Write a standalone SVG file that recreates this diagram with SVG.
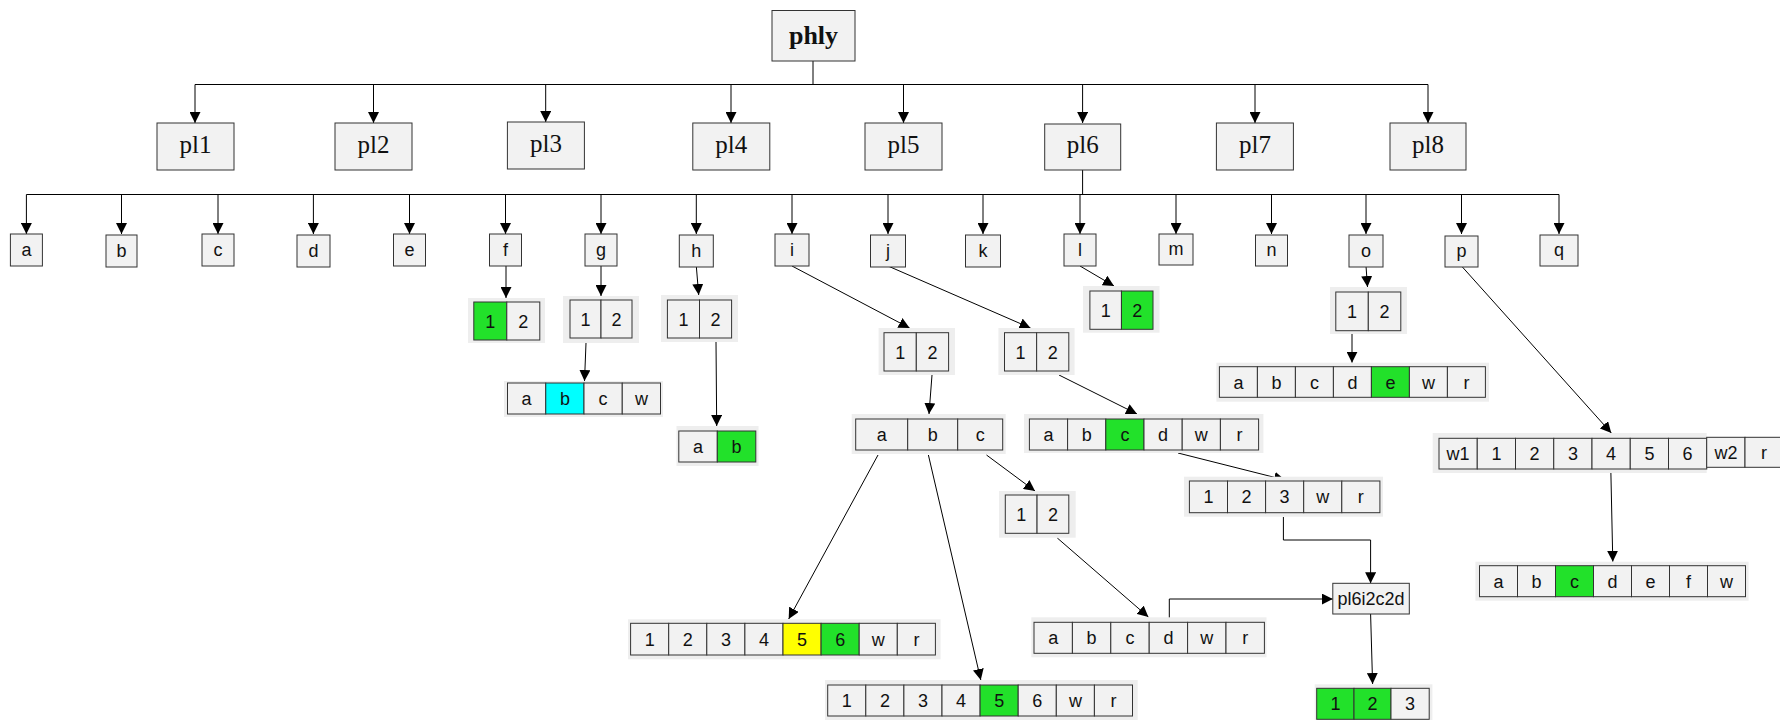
<svg xmlns="http://www.w3.org/2000/svg" width="1780" height="720" viewBox="0 0 1780 720">
<defs>
<marker id="ah" viewBox="0 0 11 11" refX="11" refY="5.5" markerWidth="11" markerHeight="11" markerUnits="userSpaceOnUse" orient="auto">
<path d="M0,0 L11,5.5 L0,11 z" fill="#000"/>
</marker>
<style>
.n{fill:#f2f2f2;stroke:#333;stroke-width:1}
.bg{fill:#eeeeee}
.gr{fill:#22e12a;stroke:#333;stroke-width:1}
.cy{fill:#00ffff;stroke:#333;stroke-width:1}
.yl{fill:#ffff00;stroke:#333;stroke-width:1}
.t{font-family:"Liberation Sans",Arial,sans-serif;font-size:18px;text-anchor:middle;fill:#111}
.s{font-family:"Liberation Serif","Times New Roman",serif;font-size:25px;text-anchor:middle;fill:#111}
.sb{font-family:"Liberation Serif","Times New Roman",serif;font-size:26px;font-weight:bold;text-anchor:middle;fill:#111}
.e{stroke:#000;stroke-width:1;fill:none}
.ea{stroke:#000;stroke-width:1;fill:none;marker-end:url(#ah)}
</style>
</defs>
<rect width="1780" height="720" fill="#fff"/>
<g id="connectors">
<path class="e" d="M813,61 V84.5 M195,84.5 H1428"/>
<path class="ea" d="M195,84.5 V123"/>
<path class="ea" d="M373.5,84.5 V123"/>
<path class="ea" d="M545.7,84.5 V122"/>
<path class="ea" d="M731,84.5 V123"/>
<path class="ea" d="M903.5,84.5 V123"/>
<path class="ea" d="M1082.6,84.5 V123"/>
<path class="ea" d="M1255,84.5 V123"/>
<path class="ea" d="M1428,84.5 V123"/>
<path class="e" d="M1082.6,170 V194.5 M26.4,194.5 H1559"/>
<path class="ea" d="M26.4,194.5 V234"/>
<path class="ea" d="M121.5,194.5 V234"/>
<path class="ea" d="M218,194.5 V234"/>
<path class="ea" d="M313.4,194.5 V234"/>
<path class="ea" d="M409.5,194.5 V234"/>
<path class="ea" d="M505.5,194.5 V234"/>
<path class="ea" d="M601,194.5 V234"/>
<path class="ea" d="M696.3,194.5 V234"/>
<path class="ea" d="M792,194.5 V234"/>
<path class="ea" d="M888,194.5 V234"/>
<path class="ea" d="M983,194.5 V234"/>
<path class="ea" d="M1080,194.5 V234"/>
<path class="ea" d="M1176,194.5 V234"/>
<path class="ea" d="M1271.5,194.5 V234"/>
<path class="ea" d="M1366,194.5 V234"/>
<path class="ea" d="M1461.5,194.5 V234"/>
<path class="ea" d="M1559,194.5 V234"/>
<path class="ea" d="M506,266 L506,298"/>
<path class="ea" d="M601,266 L601,296"/>
<path class="ea" d="M586,343 L584.5,381"/>
<path class="ea" d="M696.3,266 L698.7,295"/>
<path class="ea" d="M716,342 L716.7,426"/>
<path class="ea" d="M792,266 L909.6,328"/>
<path class="ea" d="M932,375 L929,414"/>
<path class="ea" d="M878,455 L788.7,619"/>
<path class="ea" d="M928.4,455 L980.8,680"/>
<path class="ea" d="M986.5,455 L1035,491"/>
<path class="ea" d="M1057.3,538 L1148.4,617"/>
<path class="ea" d="M1169.3,622 V599 H1332.8"/>
<path class="ea" d="M888,266 L1030.5,328"/>
<path class="ea" d="M1059,375 L1137,414"/>
<path class="ea" d="M1178,453 L1285,480"/>
<path class="ea" d="M1283.4,517 V540 H1370.6 V583.3"/>
<path class="ea" d="M1370.6,614 L1372.6,684"/>
<path class="ea" d="M1080,266 L1114,286"/>
<path class="ea" d="M1366,266 L1367.5,287"/>
<path class="ea" d="M1352,334 L1352,362.7"/>
<path class="ea" d="M1461.5,266 L1611.3,433"/>
<path class="ea" d="M1610.8,469 L1612.8,561.7"/>
</g>
<g id="phly"><rect class="n" x="772" y="10.5" width="83" height="50.5"/><text class="sb" x="813.5" y="44">phly</text></g>
<g id="pl1"><rect class="n" x="157" y="123" width="77" height="47"/><text class="s" x="195.5" y="153">pl1</text></g>
<g id="pl2"><rect class="n" x="335" y="123" width="77" height="47"/><text class="s" x="373.5" y="153">pl2</text></g>
<g id="pl3"><rect class="n" x="507.4" y="122" width="77" height="47"/><text class="s" x="546" y="152">pl3</text></g>
<g id="pl4"><rect class="n" x="692.8" y="123" width="77" height="47"/><text class="s" x="731.3" y="153">pl4</text></g>
<g id="pl5"><rect class="n" x="865" y="123" width="77" height="47"/><text class="s" x="903.5" y="153">pl5</text></g>
<g id="pl6"><rect class="n" x="1044.7" y="124" width="76" height="46"/><text class="s" x="1082.7" y="153">pl6</text></g>
<g id="pl7"><rect class="n" x="1216.4" y="123" width="77" height="47"/><text class="s" x="1255" y="153">pl7</text></g>
<g id="pl8"><rect class="n" x="1390" y="123" width="76" height="47"/><text class="s" x="1428" y="153">pl8</text></g>
<g id="a"><rect class="n" x="10.4" y="234" width="32" height="32"/><text class="t" x="26.4" y="256">a</text></g>
<g id="b"><rect class="n" x="106" y="235" width="31" height="32"/><text class="t" x="121.5" y="257">b</text></g>
<g id="c"><rect class="n" x="202" y="234" width="32" height="32"/><text class="t" x="218" y="256">c</text></g>
<g id="d"><rect class="n" x="297" y="235" width="33" height="32"/><text class="t" x="313.4" y="257">d</text></g>
<g id="e"><rect class="n" x="393.5" y="234" width="32" height="32"/><text class="t" x="409.5" y="256">e</text></g>
<g id="f"><rect class="n" x="489.5" y="234" width="32" height="32"/><text class="t" x="505.5" y="256">f</text></g>
<g id="g"><rect class="n" x="585" y="234" width="32" height="32"/><text class="t" x="601" y="256">g</text></g>
<g id="h"><rect class="n" x="679.3" y="235" width="34" height="32"/><text class="t" x="696.3" y="257">h</text></g>
<g id="i"><rect class="n" x="775" y="234" width="34" height="32"/><text class="t" x="792" y="256">i</text></g>
<g id="j"><rect class="n" x="870.5" y="235" width="35" height="32"/><text class="t" x="888" y="257">j</text></g>
<g id="k"><rect class="n" x="965.5" y="235" width="35" height="32"/><text class="t" x="983" y="257">k</text></g>
<g id="l"><rect class="n" x="1064" y="234" width="32" height="32"/><text class="t" x="1080" y="256">l</text></g>
<g id="m"><rect class="n" x="1159" y="234" width="34" height="31"/><text class="t" x="1176" y="255">m</text></g>
<g id="n"><rect class="n" x="1255.5" y="235" width="32" height="31"/><text class="t" x="1271.5" y="256">n</text></g>
<g id="o"><rect class="n" x="1349" y="235" width="34" height="32"/><text class="t" x="1366" y="257">o</text></g>
<g id="p"><rect class="n" x="1445" y="236" width="33" height="31"/><text class="t" x="1461.5" y="257">p</text></g>
<g id="q"><rect class="n" x="1540" y="235" width="38" height="31"/><text class="t" x="1559" y="256">q</text></g>
<g id="f-arr"><rect class="bg" x="468" y="298" width="77" height="45"/>
<rect class="gr" x="473.8" y="302" width="33" height="38"/><rect class="n" x="506.8" y="302" width="33" height="38"/>
<text class="t" x="490.3" y="327.5">1</text><text class="t" x="523.3" y="327.5">2</text></g>
<g id="g-arr"><rect class="bg" x="563" y="296" width="76" height="47"/>
<rect class="n" x="570" y="300" width="31" height="38"/><rect class="n" x="601" y="300" width="31" height="38"/>
<text class="t" x="585.5" y="325.5">1</text><text class="t" x="616.5" y="325.5">2</text></g>
<g id="g-abcw"><rect class="bg" x="504" y="381" width="159" height="36"/>
<rect class="n" x="507.5" y="383" width="38.25" height="31"/><rect class="cy" x="545.75" y="383" width="38.25" height="31"/><rect class="n" x="584" y="383" width="38.25" height="31"/><rect class="n" x="622.25" y="383" width="38.25" height="31"/>
<text class="t" x="526.6" y="405">a</text><text class="t" x="564.9" y="405">b</text><text class="t" x="603.1" y="405">c</text><text class="t" x="641.4" y="405">w</text></g>
<g id="h-arr"><rect class="bg" x="661" y="295" width="77" height="47"/>
<rect class="n" x="667.4" y="300" width="32.1" height="38"/><rect class="n" x="699.5" y="300" width="32.1" height="38"/>
<text class="t" x="683.5" y="325.5">1</text><text class="t" x="715.6" y="325.5">2</text></g>
<g id="h-ab"><rect class="bg" x="676.5" y="426" width="82" height="40"/>
<rect class="n" x="678.8" y="431" width="38.5" height="31"/><rect class="gr" x="717.3" y="431" width="38.5" height="31"/>
<text class="t" x="698" y="453">a</text><text class="t" x="736.5" y="453">b</text></g>
<g id="i-arr"><rect class="bg" x="878.6" y="328" width="76.4" height="47"/>
<rect class="n" x="884" y="332.7" width="32.3" height="38.3"/><rect class="n" x="916.3" y="332.7" width="32.3" height="38.3"/>
<text class="t" x="900.2" y="358.5">1</text><text class="t" x="932.5" y="358.5">2</text></g>
<g id="i-abc"><rect class="bg" x="851.7" y="414" width="154" height="40"/>
<rect class="n" x="855.7" y="419" width="52" height="31"/><rect class="n" x="907.7" y="419" width="50" height="31"/><rect class="n" x="957.7" y="419" width="45" height="31"/>
<text class="t" x="881.7" y="441">a</text><text class="t" x="932.7" y="441">b</text><text class="t" x="980.2" y="441">c</text></g>
<g id="j-arr"><rect class="bg" x="998.4" y="328" width="76.2" height="47"/>
<rect class="n" x="1004.5" y="332.7" width="32.15" height="38.3"/><rect class="n" x="1036.65" y="332.7" width="32.15" height="38.3"/>
<text class="t" x="1020.6" y="358.5">1</text><text class="t" x="1052.7" y="358.5">2</text></g>
<g id="j-abcdwr"><rect class="bg" x="1024" y="414" width="239.4" height="39"/>
<rect class="n" x="1029.4" y="419" width="38.2" height="31"/><rect class="n" x="1067.6" y="419" width="38.2" height="31"/><rect class="gr" x="1105.8" y="419" width="38.2" height="31"/><rect class="n" x="1144" y="419" width="38.2" height="31"/><rect class="n" x="1182.2" y="419" width="38.2" height="31"/><rect class="n" x="1220.4" y="419" width="38.2" height="31"/>
<text class="t" x="1048.5" y="441">a</text><text class="t" x="1086.7" y="441">b</text><text class="t" x="1124.9" y="441">c</text><text class="t" x="1163.1" y="441">d</text><text class="t" x="1201.3" y="441">w</text><text class="t" x="1239.5" y="441">r</text></g>
<g id="l-arr"><rect class="bg" x="1083" y="286" width="76.5" height="46.7"/>
<rect class="n" x="1089.9" y="291" width="31.55" height="38.3"/><rect class="gr" x="1121.45" y="291" width="31.55" height="38.3"/>
<text class="t" x="1105.7" y="316.5">1</text><text class="t" x="1137.2" y="316.5">2</text></g>
<g id="o-arr"><rect class="bg" x="1330" y="287" width="77" height="47"/>
<rect class="n" x="1335.8" y="292" width="32.5" height="38.7"/><rect class="n" x="1368.3" y="292" width="32.5" height="38.7"/>
<text class="t" x="1352" y="318">1</text><text class="t" x="1384.5" y="318">2</text></g>
<g id="o-abcdewr"><rect class="bg" x="1216.4" y="362.7" width="272.6" height="39"/>
<rect class="n" x="1219.4" y="366.7" width="38" height="30.6"/><rect class="n" x="1257.4" y="366.7" width="38" height="30.6"/><rect class="n" x="1295.4" y="366.7" width="38" height="30.6"/><rect class="n" x="1333.4" y="366.7" width="38" height="30.6"/><rect class="gr" x="1371.4" y="366.7" width="38" height="30.6"/><rect class="n" x="1409.4" y="366.7" width="38" height="30.6"/><rect class="n" x="1447.4" y="366.7" width="38" height="30.6"/>
<text class="t" x="1238.4" y="388.5">a</text><text class="t" x="1276.4" y="388.5">b</text><text class="t" x="1314.4" y="388.5">c</text><text class="t" x="1352.4" y="388.5">d</text><text class="t" x="1390.4" y="388.5">e</text><text class="t" x="1428.4" y="388.5">w</text><text class="t" x="1466.4" y="388.5">r</text></g>
<g id="p-arr"><rect class="bg" x="1432.7" y="433" width="274" height="40"/>
<rect class="n" x="1439" y="438.3" width="38.25" height="30.7"/><rect class="n" x="1477.25" y="438.3" width="38.25" height="30.7"/><rect class="n" x="1515.5" y="438.3" width="38.25" height="30.7"/><rect class="n" x="1553.75" y="438.3" width="38.25" height="30.7"/><rect class="n" x="1592" y="438.3" width="38.25" height="30.7"/><rect class="n" x="1630.25" y="438.3" width="38.25" height="30.7"/><rect class="n" x="1668.5" y="438.3" width="38.25" height="30.7"/>
<text class="t" x="1458.1" y="460">w1</text><text class="t" x="1496.4" y="460">1</text><text class="t" x="1534.6" y="460">2</text><text class="t" x="1572.9" y="460">3</text><text class="t" x="1611.1" y="460">4</text><text class="t" x="1649.4" y="460">5</text><text class="t" x="1687.6" y="460">6</text>
<rect class="n" x="1706.7" y="437.3" width="38.3" height="30"/><rect class="n" x="1745" y="437.3" width="38" height="30"/>
<text class="t" x="1725.9" y="458.8">w2</text><text class="t" x="1764" y="458.8">r</text></g>
<g id="arr-123wr"><rect class="bg" x="1184" y="476.7" width="199" height="40"/>
<rect class="n" x="1189.4" y="481" width="38.1" height="31.7"/><rect class="n" x="1227.5" y="481" width="38.1" height="31.7"/><rect class="n" x="1265.6" y="481" width="38.1" height="31.7"/><rect class="n" x="1303.7" y="481" width="38.1" height="31.7"/><rect class="n" x="1341.8" y="481" width="38.1" height="31.7"/>
<text class="t" x="1208.4" y="503.3">1</text><text class="t" x="1246.5" y="503.3">2</text><text class="t" x="1284.6" y="503.3">3</text><text class="t" x="1322.7" y="503.3">w</text><text class="t" x="1360.8" y="503.3">r</text></g>
<g id="c-arr"><rect class="bg" x="999" y="491" width="76.7" height="46.7"/>
<rect class="n" x="1005.3" y="495" width="31.75" height="38.3"/><rect class="n" x="1037.05" y="495" width="31.75" height="38.3"/>
<text class="t" x="1021.2" y="520.5">1</text><text class="t" x="1052.9" y="520.5">2</text></g>
<g id="a-arr"><rect class="bg" x="628" y="619.3" width="312.6" height="40"/>
<rect class="n" x="630.6" y="623.3" width="38.1" height="31.7"/><rect class="n" x="668.7" y="623.3" width="38.1" height="31.7"/><rect class="n" x="706.8" y="623.3" width="38.1" height="31.7"/><rect class="n" x="744.9" y="623.3" width="38.1" height="31.7"/><rect class="yl" x="783" y="623.3" width="38.1" height="31.7"/><rect class="gr" x="821.1" y="623.3" width="38.1" height="31.7"/><rect class="n" x="859.2" y="623.3" width="38.1" height="31.7"/><rect class="n" x="897.3" y="623.3" width="38.1" height="31.7"/>
<text class="t" x="649.7" y="645.7">1</text><text class="t" x="687.8" y="645.7">2</text><text class="t" x="725.9" y="645.7">3</text><text class="t" x="764" y="645.7">4</text><text class="t" x="802.1" y="645.7">5</text><text class="t" x="840.2" y="645.7">6</text><text class="t" x="878.3" y="645.7">w</text><text class="t" x="916.4" y="645.7">r</text></g>
<g id="b-arr"><rect class="bg" x="825" y="680" width="312.7" height="44"/>
<rect class="n" x="827.7" y="685" width="38.1" height="31"/><rect class="n" x="865.8" y="685" width="38.1" height="31"/><rect class="n" x="903.9" y="685" width="38.1" height="31"/><rect class="n" x="942" y="685" width="38.1" height="31"/><rect class="gr" x="980.1" y="685" width="38.1" height="31"/><rect class="n" x="1018.2" y="685" width="38.1" height="31"/><rect class="n" x="1056.3" y="685" width="38.1" height="31"/><rect class="n" x="1094.4" y="685" width="38.1" height="31"/>
<text class="t" x="846.8" y="707">1</text><text class="t" x="884.9" y="707">2</text><text class="t" x="923" y="707">3</text><text class="t" x="961.1" y="707">4</text><text class="t" x="999.2" y="707">5</text><text class="t" x="1037.3" y="707">6</text><text class="t" x="1075.4" y="707">w</text><text class="t" x="1113.5" y="707">r</text></g>
<g id="c-abcdwr"><rect class="bg" x="1031.3" y="617.3" width="235.2" height="40"/>
<rect class="n" x="1034" y="622.3" width="38.4" height="31"/><rect class="n" x="1072.4" y="622.3" width="38.4" height="31"/><rect class="n" x="1110.8" y="622.3" width="38.4" height="31"/><rect class="n" x="1149.2" y="622.3" width="38.4" height="31"/><rect class="n" x="1187.6" y="622.3" width="38.4" height="31"/><rect class="n" x="1226" y="622.3" width="38.4" height="31"/>
<text class="t" x="1053.2" y="644.3">a</text><text class="t" x="1091.6" y="644.3">b</text><text class="t" x="1130" y="644.3">c</text><text class="t" x="1168.4" y="644.3">d</text><text class="t" x="1206.8" y="644.3">w</text><text class="t" x="1245.2" y="644.3">r</text></g>
<g id="pl6i2c2d"><rect class="n" x="1332.8" y="583.3" width="76.5" height="30.7"/><text class="t" x="1371" y="605">pl6i2c2d</text></g>
<g id="pl6i2c2d-arr"><rect class="bg" x="1314.7" y="684.3" width="117.7" height="40"/>
<rect class="gr" x="1316.7" y="688.3" width="37.3" height="31"/><rect class="gr" x="1354" y="688.3" width="37" height="31"/><rect class="n" x="1391" y="688.3" width="38.2" height="31"/>
<text class="t" x="1335.4" y="710.3">1</text><text class="t" x="1372.5" y="710.3">2</text><text class="t" x="1410.1" y="710.3">3</text></g>
<g id="p4-abcdefw"><rect class="bg" x="1475.4" y="561.7" width="273.2" height="39"/>
<rect class="n" x="1479.5" y="565.7" width="38" height="31"/><rect class="n" x="1517.5" y="565.7" width="38" height="31"/><rect class="gr" x="1555.5" y="565.7" width="38" height="31"/><rect class="n" x="1593.5" y="565.7" width="38" height="31"/><rect class="n" x="1631.5" y="565.7" width="38" height="31"/><rect class="n" x="1669.5" y="565.7" width="38" height="31"/><rect class="n" x="1707.5" y="565.7" width="38" height="31"/>
<text class="t" x="1498.5" y="587.7">a</text><text class="t" x="1536.5" y="587.7">b</text><text class="t" x="1574.5" y="587.7">c</text><text class="t" x="1612.5" y="587.7">d</text><text class="t" x="1650.5" y="587.7">e</text><text class="t" x="1688.5" y="587.7">f</text><text class="t" x="1726.5" y="587.7">w</text></g>
</svg>
